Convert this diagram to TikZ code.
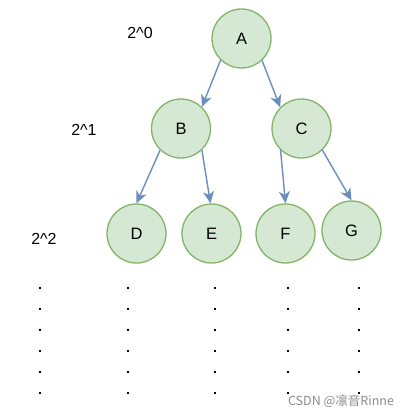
\documentclass[tikz,border=0pt]{standalone}
\usepackage{fontspec}
\setmainfont{Liberation Sans}
\newfontfamily\cjkfont{Noto Sans CJK SC}
\usetikzlibrary{arrows.meta}
\definecolor{nodefill}{HTML}{D5E8D4}
\definecolor{nodeline}{HTML}{82B366}
\definecolor{edgeline}{HTML}{6C8EBF}
\tikzset{
  treenode/.style={circle, draw=nodeline, fill=nodefill, line width=1.3pt, minimum size=59pt, inner sep=0pt, font=\fontsize{16.5}{19}\selectfont},
  edge/.style={draw=edgeline, line width=1.4pt, -{Stealth[length=12pt,width=11pt,inset=3.5pt]}},
  levellabel/.style={font=\fontsize{16}{19}\selectfont, inner sep=0pt},
  dotmark/.style={fill=black, minimum size=2pt, inner sep=0pt, rectangle},
}
\begin{document}
\begin{tikzpicture}[x=1pt,y=-1pt]
\useasboundingbox (0,0) rectangle (411,417);
\node[treenode] (A) at (241.5,38.5) {A};
\node[treenode] (B) at (181,128.5) {B};
\node[treenode] (C) at (301.5,128.5) {C};
\node[treenode] (D) at (136.5,233.5) {D};
\node[treenode] (E) at (211.5,233.5) {E};
\node[treenode] (F) at (285.5,233.5) {F};
\node[treenode] (G) at (351.5,230.5) {G};
\draw[edge] (A.226) -- (B.46);
\draw[edge] (A.313) -- (C.135);
\draw[edge] (B.226) -- (D.90);
\draw[edge] (B.314) -- (E.92);
\draw[edge] (C.226) -- (F.90);
\draw[edge] (C.314) -- (G.90);
\node[levellabel] (L0) at (140,33) {2\^{}0};
\node[levellabel] (L1) at (84,130) {2\^{}1};
\node[levellabel] (L2) at (44,239) {2\^{}2};
\foreach \x [count=\i] in {39.5,128,215,287.5,359}{
  \foreach \y [count=\j] in {287.5,308.5,329.5,350.5,371.5,392.5}{
    \node[dotmark] (dot\i\j) at (\x,\y) {};
  }
}
\node[font=\cjkfont\fontsize{12.5}{15}\selectfont, text=black!45, inner sep=0pt] (wm) at (341,401) {CSDN @凛音Rinne};
\end{tikzpicture}
\end{document}
